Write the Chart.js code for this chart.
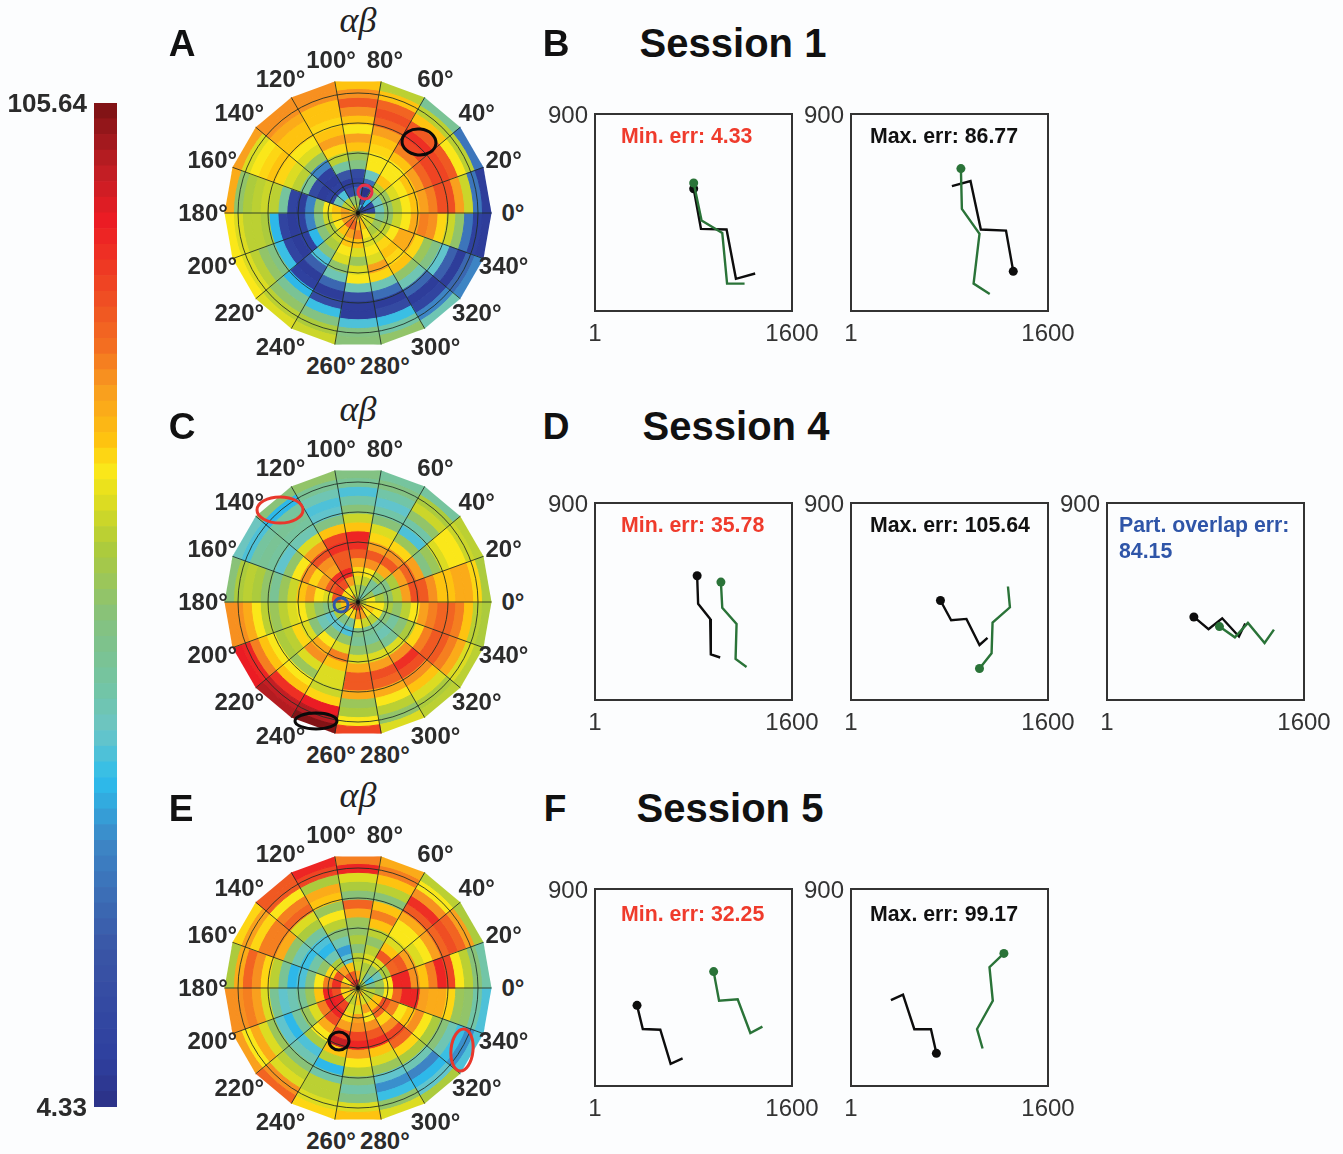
<!DOCTYPE html>
<html>
<head>
<meta charset="utf-8">
<title>Sessions</title>
<script src="https://cdn.jsdelivr.net/npm/chart.js@4"></script>
<style>
  html, body { margin: 0; padding: 0; background: #fcfdfe; }
  #page { position: relative; width: 1343px; height: 1154px; overflow: hidden; font-family: "Liberation Sans", sans-serif; }
  canvas { position: absolute; }
  .txt { position: absolute; white-space: nowrap; line-height: 1; }
</style>
</head>
<body>
<div id="page"></div>
<script>
// polar sectors, counter clockwise from 0 deg
const sectorAngles = [0, 20, 40, 60, 80, 100, 120, 140, 160, 180, 200, 220, 240, 260, 280, 300, 320, 340];
const angleLabels = sectorAngles.map(a => a + '°');

// each row is one sector, values go from the outer ring to the centre
const cellsA = [
  [8, 28, 64, 76, 86, 86, 80, 77, 72, 68, 62, 55, 43, 15, 8],
  [28, 62, 68, 84, 88, 88, 82, 77, 72, 68, 66, 58, 43, 12, 10],
  [50, 62, 72, 84, 90, 88, 80, 72, 68, 68, 72, 62, 55, 37, 12],
  [62, 72, 82, 86, 82, 76, 72, 70, 68, 68, 43, 25, 5, 20, 40],
  [72, 78, 84, 78, 72, 68, 76, 72, 58, 52, 14, 12, 24, 55, 62],
  [78, 78, 72, 72, 70, 72, 76, 70, 62, 48, 20, 8, 15, 55, 66],
  [78, 78, 74, 72, 72, 68, 66, 58, 30, 10, 8, 10, 40, 62, 76],
  [76, 66, 68, 70, 72, 70, 66, 62, 50, 15, 8, 10, 45, 62, 72],
  [74, 56, 60, 62, 64, 62, 48, 12, 8, 30, 56, 68, 72, 76, 70],
  [68, 66, 62, 62, 60, 37, 12, 8, 10, 30, 52, 64, 70, 74, 76],
  [68, 66, 62, 56, 52, 38, 12, 8, 10, 36, 54, 60, 68, 76, 80],
  [66, 62, 56, 50, 36, 10, 8, 22, 40, 54, 60, 64, 72, 82, 78],
  [64, 60, 52, 38, 14, 8, 24, 44, 56, 66, 68, 72, 76, 82, 78],
  [54, 52, 40, 8, 8, 16, 44, 68, 66, 58, 66, 72, 80, 74, 68],
  [56, 46, 38, 14, 8, 26, 44, 70, 76, 66, 68, 66, 68, 72, 74],
  [44, 30, 12, 8, 24, 44, 56, 72, 70, 72, 70, 64, 60, 64, 68],
  [30, 24, 8, 22, 42, 52, 58, 70, 74, 74, 68, 62, 58, 64, 68],
  [8, 10, 28, 56, 64, 70, 78, 80, 74, 68, 64, 56, 50, 62, 68]
];
const cellsC = [
  [60, 70, 74, 74, 72, 72, 78, 84, 86, 76, 62, 56, 60, 68, 62],
  [62, 64, 68, 68, 66, 58, 52, 76, 82, 76, 60, 52, 48, 58, 55],
  [48, 60, 64, 56, 46, 40, 58, 70, 78, 84, 74, 60, 50, 48, 44],
  [48, 52, 46, 42, 46, 54, 66, 70, 76, 84, 78, 68, 62, 54, 48],
  [52, 50, 40, 46, 54, 64, 72, 92, 90, 84, 76, 70, 66, 60, 62],
  [56, 50, 44, 40, 42, 52, 72, 88, 90, 84, 84, 92, 76, 66, 60],
  [54, 37, 48, 50, 48, 44, 66, 76, 86, 78, 76, 90, 86, 68, 78],
  [43, 40, 48, 50, 48, 42, 56, 68, 78, 70, 76, 84, 88, 70, 62],
  [54, 60, 62, 60, 56, 50, 58, 64, 72, 76, 68, 66, 84, 76, 64],
  [78, 78, 74, 68, 62, 58, 62, 66, 68, 62, 56, 52, 62, 72, 82],
  [94, 92, 80, 72, 68, 60, 62, 70, 66, 54, 44, 42, 60, 76, 84],
  [100, 98, 90, 72, 68, 58, 66, 78, 74, 68, 54, 42, 52, 68, 88],
  [105, 100, 94, 70, 64, 66, 66, 72, 80, 66, 56, 40, 50, 70, 86],
  [88, 68, 60, 58, 74, 84, 84, 74, 66, 56, 50, 52, 68, 80, 92],
  [66, 56, 62, 68, 74, 82, 86, 76, 66, 56, 48, 50, 64, 76, 84],
  [62, 60, 66, 72, 78, 86, 90, 78, 66, 50, 44, 48, 62, 68, 76],
  [62, 66, 74, 80, 84, 84, 80, 70, 60, 54, 48, 54, 68, 72, 66],
  [60, 62, 72, 80, 82, 82, 80, 76, 68, 62, 56, 60, 68, 68, 62]
];
const cellsE = [
  [46, 54, 62, 68, 88, 92, 80, 72, 78, 92, 92, 68, 58, 52, 60],
  [60, 76, 82, 86, 82, 76, 68, 66, 76, 84, 82, 60, 44, 38, 56],
  [62, 68, 78, 90, 84, 74, 68, 68, 66, 72, 84, 66, 56, 48, 60],
  [74, 80, 72, 62, 54, 72, 80, 72, 62, 56, 62, 66, 60, 62, 70],
  [80, 92, 66, 60, 54, 82, 74, 58, 56, 60, 54, 62, 64, 74, 92],
  [92, 88, 60, 74, 72, 58, 68, 62, 54, 44, 34, 42, 72, 84, 92],
  [84, 84, 68, 80, 82, 66, 60, 48, 40, 36, 44, 60, 76, 84, 90],
  [70, 76, 70, 80, 80, 74, 56, 44, 38, 46, 56, 70, 86, 68, 82],
  [60, 74, 82, 78, 70, 62, 50, 37, 40, 52, 68, 80, 90, 76, 68],
  [78, 78, 80, 76, 66, 50, 42, 44, 50, 58, 72, 92, 86, 70, 80],
  [76, 68, 74, 66, 58, 42, 37, 48, 58, 66, 80, 94, 92, 70, 64],
  [82, 78, 66, 62, 54, 44, 40, 60, 68, 74, 86, 92, 88, 62, 70],
  [70, 66, 62, 62, 46, 36, 62, 72, 98, 88, 76, 70, 66, 62, 70],
  [72, 66, 52, 46, 54, 62, 68, 76, 92, 88, 78, 76, 66, 72, 68],
  [66, 56, 38, 32, 42, 58, 66, 72, 90, 84, 78, 68, 76, 66, 76],
  [60, 42, 36, 30, 44, 60, 70, 82, 88, 78, 70, 82, 72, 64, 70],
  [40, 32, 38, 44, 54, 60, 68, 78, 72, 68, 80, 86, 72, 62, 64],
  [40, 46, 56, 58, 70, 74, 74, 76, 92, 92, 82, 68, 58, 62, 66]
];

// trajectories, first point of each is the dot
const b1Black = [[802, 559], [861, 376], [1069, 373], [1145, 148], [1301, 172]];
const b1Green = [[802, 585], [866, 414], [1034, 357], [1073, 126], [1215, 126]];
const b2Black = [[1318, 182], [1259, 368], [1055, 373], [971, 594], [820, 571]];
const b2Green = [[893, 651], [901, 467], [1044, 353], [996, 126], [1127, 79]];
const d1Black = [[830, 568], [838, 440], [936, 371], [941, 209], [1017, 195]];
const d1Green = [[1023, 539], [1034, 422], [1150, 348], [1142, 188], [1231, 152]];
const d2Black = [[727, 455], [814, 365], [938, 371], [1044, 252], [1109, 285]];
const d2Green = [[1044, 145], [1142, 214], [1150, 354], [1291, 424], [1275, 519]];
const d3Black = [[706, 380], [825, 324], [936, 374], [1072, 291], [1123, 350]];
const d3Green = [[914, 336], [1039, 287], [1145, 353], [1280, 261], [1356, 322]];
const f1Black = [[342, 369], [389, 261], [531, 258], [615, 102], [712, 127]];
const f1Green = [[964, 523], [1008, 390], [1159, 397], [1262, 243], [1360, 272]];
const f2Black = [[694, 150], [650, 260], [515, 260], [423, 418], [325, 393]];
const f2Green = [[1242, 606], [1125, 543], [1152, 390], [1024, 261], [1069, 172]];

const minErr = 4.33;
const maxErr = 105.64;
const colorSteps = 64;

// colour bar read from bottom to top
const colorStops = [
  [4.33, '#2b3186'], [9, '#2e3f9e'], [20, '#3a55a5'], [31, '#3d86c6'], [37.3, '#2dbdec'],
  [42.4, '#6cc5c5'], [46.4, '#72c5a6'], [53.5, '#85c17e'], [60.8, '#aecb3a'], [66.3, '#e6e01c'],
  [68.6, '#fbe81a'], [71.3, '#fec50f'], [76.7, '#f99d1f'], [81, '#f36f21'], [86, '#ef4d23'],
  [93.5, '#ed1c24'], [99, '#bf1e24'], [105.64, '#7a1214']
];

function hexToRgb(h) {
  return [parseInt(h.slice(1, 3), 16), parseInt(h.slice(3, 5), 16), parseInt(h.slice(5, 7), 16)];
}

function colorFor(v) {
  // the original map has discrete steps
  const step = (maxErr - minErr) / colorSteps;
  const q = minErr + (Math.min(Math.floor((v - minErr) / step), colorSteps - 1) + 0.5) * step;
  for (let i = 1; i < colorStops.length; i++) {
    if (q <= colorStops[i][0]) {
      const [v0, c0] = colorStops[i - 1];
      const [v1, c1] = colorStops[i];
      const t = (q - v0) / (v1 - v0);
      const a = hexToRgb(c0), b = hexToRgb(c1);
      return `rgb(${a.map((x, k) => Math.round(x + (b[k] - x) * t)).join(',')})`;
    }
  }
  return colorStops[colorStops.length - 1][1];
}

Chart.defaults.font.family = '"Liberation Sans", sans-serif';
Chart.defaults.animation = false;

const page = document.getElementById('page');

function addText(text, x, y, size, opts = {}) {
  const el = document.createElement('div');
  el.className = 'txt';
  el.textContent = text;
  el.style.left = x + 'px';
  el.style.top = y + 'px';
  el.style.fontSize = size + 'px';
  el.style.fontWeight = opts.weight || 'normal';
  el.style.color = opts.color || '#222';
  if (opts.family) el.style.fontFamily = opts.family;
  if (opts.italic) el.style.fontStyle = 'italic';
  el.style.transform = opts.left ? 'translate(0,-50%)' : 'translate(-50%,-50%)';
  page.appendChild(el);
}

function addCanvas(x, y, w, h) {
  const c = document.createElement('canvas');
  c.width = w;
  c.height = h;
  c.style.left = x + 'px';
  c.style.top = y + 'px';
  c.style.width = w + 'px';
  c.style.height = h + 'px';
  page.appendChild(c);
  return c;
}

// clip the round doughnut to the 18 sided outline, then draw the polar grid and the ring marks
const polarPlugin = {
  id: 'polarPlugin',
  beforeDatasetsDraw(chart) {
    const ctx = chart.ctx;
    const meta = chart.getDatasetMeta(0).controller;
    const cx = (chart.chartArea.left + chart.chartArea.right) / 2;
    const cy = (chart.chartArea.top + chart.chartArea.bottom) / 2;
    const R = meta.outerRadius;
    ctx.save();
    ctx.beginPath();
    sectorAngles.forEach((a, i) => {
      const t = a * Math.PI / 180;
      const px = cx + R * Math.cos(t), py = cy - R * Math.sin(t);
      if (i === 0) ctx.moveTo(px, py); else ctx.lineTo(px, py);
    });
    ctx.closePath();
    ctx.clip();
  },
  afterDatasetsDraw(chart, args, opts) {
    const ctx = chart.ctx;
    ctx.restore();
    const cx = (chart.chartArea.left + chart.chartArea.right) / 2;
    const cy = (chart.chartArea.top + chart.chartArea.bottom) / 2;
    const R = chart.getDatasetMeta(0).controller.outerRadius;
    ctx.save();
    ctx.strokeStyle = 'rgba(30,45,35,0.85)';
    ctx.lineWidth = 1;
    [30, 60, 90, 120].forEach(r => {
      ctx.beginPath();
      ctx.arc(cx, cy, r, 0, Math.PI * 2);
      ctx.stroke();
    });
    sectorAngles.forEach(a => {
      const t = a * Math.PI / 180;
      ctx.beginPath();
      ctx.moveTo(cx, cy);
      ctx.lineTo(cx + R * Math.cos(t), cy - R * Math.sin(t));
      ctx.stroke();
    });
    ctx.fillStyle = '#111';
    ctx.beginPath();
    ctx.arc(cx, cy, 2, 0, Math.PI * 2);
    ctx.fill();
    (opts.rings || []).forEach(m => {
      ctx.strokeStyle = m.color;
      ctx.lineWidth = 3;
      ctx.beginPath();
      ctx.ellipse(cx + m.dx, cy + m.dy, m.rx, m.ry, m.tilt || 0, 0, Math.PI * 2);
      ctx.stroke();
    });
    ctx.restore();
  }
};

function polarChart(cells, cx, cy, rings) {
  const half = 134;
  const canvas = addCanvas(cx - half, cy - half, half * 2, half * 2);
  // doughnut runs clockwise from the top, sectors run counter clockwise from the east
  const order = sectorAngles.map((a, i) => sectorAngles.length - 1 - i);
  const datasets = cells[0].map((_, ring) => {
    const colors = order.map(i => colorFor(cells[i][ring]));
    return {
      data: order.map(() => 20),
      backgroundColor: colors,
      borderColor: colors,
      borderWidth: 1
    };
  });
  new Chart(canvas, {
    type: 'doughnut',
    data: { labels: order.map(i => angleLabels[i]), datasets },
    options: {
      responsive: false,
      rotation: 90,
      cutout: 0,
      events: [],
      layout: { padding: 0 },
      plugins: { legend: { display: false }, tooltip: { enabled: false }, polarPlugin: { rings } }
    },
    plugins: [polarPlugin]
  });
  sectorAngles.forEach((a, i) => {
    const t = a * Math.PI / 180;
    addText(angleLabels[i], cx + 155 * Math.cos(t), cy - 155 * Math.sin(t), 24, { weight: 'bold', color: '#2b2b2b' });
  });
  addText('αβ', cx, cy - 193, 36, { family: '"Liberation Serif", serif', italic: true, color: '#222' });
}

const framePlugin = {
  id: 'framePlugin',
  afterDraw(chart) {
    const a = chart.chartArea, ctx = chart.ctx;
    ctx.save();
    ctx.strokeStyle = '#333';
    ctx.lineWidth = 2;
    ctx.strokeRect(a.left, a.top, a.right - a.left, a.bottom - a.top);
    ctx.restore();
  }
};

function pathSet(points, color) {
  return {
    data: points.map(p => ({ x: p[0], y: p[1] })),
    borderColor: color,
    backgroundColor: color,
    showLine: true,
    borderWidth: 2.4,
    pointRadius: points.map((p, i) => i === 0 ? 4.5 : 0),
    pointBorderWidth: 0,
    tension: 0
  };
}

function pathChart(boxX, boxY, black, green) {
  const canvas = addCanvas(boxX - 50, boxY - 22, 285, 259);
  new Chart(canvas, {
    type: 'scatter',
    data: { datasets: [pathSet(green, '#2a7338'), pathSet(black, '#0d0d0d')] },
    options: {
      responsive: false,
      events: [],
      layout: { padding: { right: 38 } },
      plugins: { legend: { display: false }, tooltip: { enabled: false } },
      scales: {
        x: {
          type: 'linear',
          min: 1,
          max: 1600,
          grid: { display: false, drawTicks: false },
          border: { display: false },
          afterBuildTicks: s => { s.ticks = [{ value: 1 }, { value: 1600 }]; },
          afterFit: s => { s.height = 40; s.paddingLeft = 0; s.paddingRight = 0; },
          ticks: { autoSkip: false, maxRotation: 0, padding: 9, color: '#333', font: { size: 24 }, callback: v => String(v) }
        },
        y: {
          type: 'linear',
          min: 1,
          max: 900,
          grid: { display: false, drawTicks: false },
          border: { display: false },
          afterBuildTicks: s => { s.ticks = [{ value: 900 }]; },
          afterFit: s => { s.width = 50; s.paddingTop = 22; s.paddingBottom = 0; },
          ticks: { autoSkip: false, padding: 7, labelOffset: 2, color: '#333', font: { size: 24 }, callback: v => String(v) }
        }
      }
    },
    plugins: [framePlugin]
  });
}

function colorBar() {
  const canvas = addCanvas(0, 83, 125, 1044);
  const step = (maxErr - minErr) / colorSteps;
  const datasets = [];
  for (let i = 0; i < colorSteps; i++) {
    const lo = minErr + i * step;
    datasets.push({
      data: [[lo, lo + step]],
      backgroundColor: colorFor(lo + step / 2),
      borderWidth: 0,
      barPercentage: 1,
      categoryPercentage: 1
    });
  }
  new Chart(canvas, {
    type: 'bar',
    data: { labels: ['err'], datasets },
    options: {
      responsive: false,
      events: [],
      grouped: false,
      layout: { padding: { right: 8 } },
      plugins: { legend: { display: false }, tooltip: { enabled: false } },
      scales: {
        x: { display: false },
        y: {
          min: minErr,
          max: maxErr,
          grid: { display: false, drawTicks: false },
          border: { display: false },
          afterBuildTicks: s => { s.ticks = [{ value: minErr }, { value: maxErr }]; },
          afterFit: s => { s.width = 94; s.paddingTop = 20; s.paddingBottom = 20; },
          ticks: { autoSkip: false, padding: 7, labelOffset: 2, color: '#2b2b2b', font: { size: 26, weight: 'bold' }, callback: v => v.toFixed(2) }
        }
      }
    }
  });
}

colorBar();

polarChart(cellsA, 358, 213, [
  { dx: 61, dy: -71, rx: 17, ry: 13, tilt: 0.1, color: '#0a0a0a' },
  { dx: 7, dy: -21, rx: 7, ry: 7, color: '#e8304a' }
]);
polarChart(cellsC, 358, 602, [
  { dx: -78, dy: -92, rx: 23, ry: 13, color: '#e8382c' },
  { dx: -42, dy: 119, rx: 21, ry: 8, color: '#0a0a0a' },
  { dx: -17, dy: 3, rx: 7, ry: 7, color: '#2f55a8' }
]);
polarChart(cellsE, 358, 988, [
  { dx: -19, dy: 53, rx: 10, ry: 9, color: '#0a0a0a' },
  { dx: 104, dy: 62, rx: 11, ry: 21, tilt: 0.1, color: '#e8382c' }
]);

pathChart(595, 114, b1Black, b1Green);
pathChart(851, 114, b2Black, b2Green);
pathChart(595, 503, d1Black, d1Green);
pathChart(851, 503, d2Black, d2Green);
pathChart(1107, 503, d3Black, d3Green);
pathChart(595, 889, f1Black, f1Green);
pathChart(851, 889, f2Black, f2Green);

const bold = { weight: 'bold', color: '#111' };
addText('A', 182, 43, 37, bold);
addText('B', 556, 43, 37, bold);
addText('C', 182, 426, 37, bold);
addText('D', 556, 426, 37, bold);
addText('E', 181, 808, 37, bold);
addText('F', 555, 808, 37, bold);
addText('Session 1', 733, 43, 40, bold);
addText('Session 4', 736, 426, 40, bold);
addText('Session 5', 730, 808, 40, bold);

const red = '#ef3b2c', black = '#111', blue = '#2f55a8';
function note(text, x, y, color) {
  addText(text, x, y, 21.3, { weight: 'bold', color, left: true });
}
note('Min. err: 4.33', 621, 137, red);
note('Max. err: 86.77', 870, 137, black);
note('Min. err: 35.78', 621, 526, red);
note('Max. err: 105.64', 870, 526, black);
note('Part. overlap err:', 1119, 526, blue);
note('84.15', 1119, 552, blue);
note('Min. err: 32.25', 621, 915, red);
note('Max. err: 99.17', 870, 915, black);
</script>
</body>
</html>
